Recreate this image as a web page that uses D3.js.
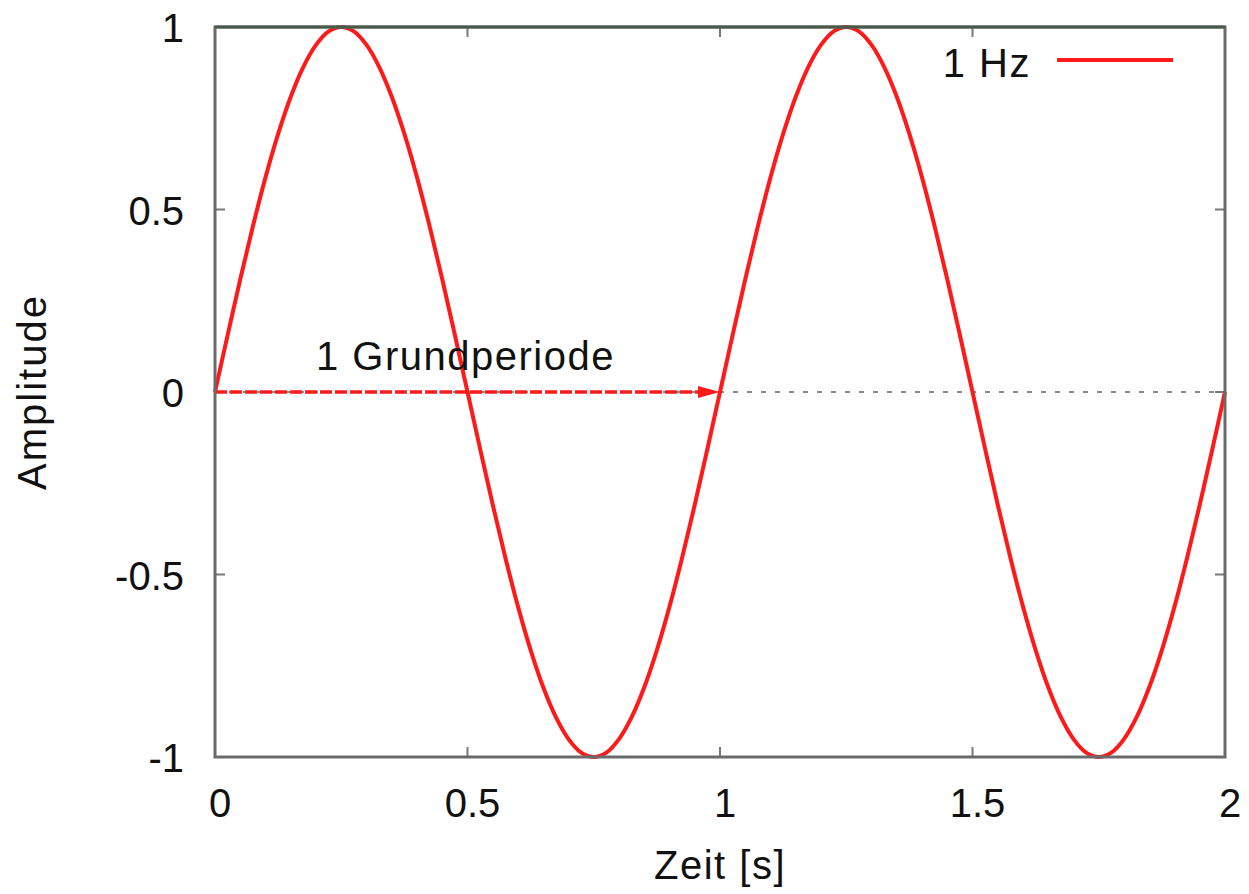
<!DOCTYPE html>
<html><head><meta charset="utf-8">
<script src="https://cdn.jsdelivr.net/npm/d3@7"></script>
<style>body{margin:0;background:#fff}svg{display:block}text{font-family:"Liberation Sans",Arial,sans-serif;fill:#111}</style>
</head><body><svg id="c" width="1249" height="894"></svg>
<script>
// Data: time (s) and amplitude
const times = [0,0.025,0.05,0.075,0.1,0.125,0.15,0.175,0.2,0.225,0.25,0.275,0.3,0.325,0.35,0.375,0.4,0.425,0.45,0.475,0.5,0.525,0.55,0.575,0.6,0.625,0.65,0.675,0.7,0.725,0.75,0.775,0.8,0.825,0.85,0.875,0.9,0.925,0.95,0.975,1,1.025,1.05,1.075,1.1,1.125,1.15,1.175,1.2,1.225,1.25,1.275,1.3,1.325,1.35,1.375,1.4,1.425,1.45,1.475,1.5,1.525,1.55,1.575,1.6,1.625,1.65,1.675,1.7,1.725,1.75,1.775,1.8,1.825,1.85,1.875,1.9,1.925,1.95,1.975,2];
const amplitude = [0,0.156,0.309,0.454,0.588,0.707,0.809,0.891,0.951,0.988,1,0.988,0.951,0.891,0.809,0.707,0.588,0.454,0.309,0.156,0,-0.156,-0.309,-0.454,-0.588,-0.707,-0.809,-0.891,-0.951,-0.988,-1,-0.988,-0.951,-0.891,-0.809,-0.707,-0.588,-0.454,-0.309,-0.156,0,0.156,0.309,0.454,0.588,0.707,0.809,0.891,0.951,0.988,1,0.988,0.951,0.891,0.809,0.707,0.588,0.454,0.309,0.156,0,-0.156,-0.309,-0.454,-0.588,-0.707,-0.809,-0.891,-0.951,-0.988,-1,-0.988,-0.951,-0.891,-0.809,-0.707,-0.588,-0.454,-0.309,-0.156,0];
const xTicks = [0,0.5,1,1.5,2];
const yTicks = [-1,-0.5,0,0.5,1];
const seriesName = "1 Hz";
const arrowFrom = 0, arrowTo = 1, arrowLabel = "1 Grundperiode";

const svg = d3.select("#c");
const L=215,R=1225,T=27,B=757;
const x = d3.scaleLinear().domain([0,2]).range([L,R]);
const y = d3.scaleLinear().domain([-1,1]).range([B,T]);
const red = "#ff1a1a";

// zero axis dotted
svg.append("line").attr("x1",L).attr("x2",R).attr("y1",y(0)).attr("y2",y(0))
  .attr("stroke","#888").attr("stroke-width",2).attr("stroke-dasharray","5,9");

// ticks inward (all four sides)
const tk=10;
const g=svg.append("g").attr("stroke","#777").attr("stroke-width",2);
xTicks.forEach(v=>{
  g.append("line").attr("x1",x(v)).attr("x2",x(v)).attr("y1",B).attr("y2",B-tk);
  g.append("line").attr("x1",x(v)).attr("x2",x(v)).attr("y1",T).attr("y2",T+tk);
});
yTicks.forEach(v=>{
  g.append("line").attr("x1",L).attr("x2",L+tk).attr("y1",y(v)).attr("y2",y(v));
  g.append("line").attr("x1",R).attr("x2",R-tk).attr("y1",y(v)).attr("y2",y(v));
});

// arrow
svg.append("line").attr("x1",x(arrowFrom)).attr("x2",x(arrowTo)-10).attr("y1",y(0)).attr("y2",y(0))
  .attr("stroke",red).attr("stroke-width",3.5).attr("stroke-dasharray","12,3");
svg.append("path").attr("d",`M${x(arrowTo)-22},${y(0)-6}L${x(arrowTo)},${y(0)}L${x(arrowTo)-22},${y(0)+6}Z`)
  .attr("fill",red);

// sine curve
const data = times.map((t,i)=>({t,a:amplitude[i]}));
svg.append("path").datum(data)
  .attr("d",d3.line().x(d=>x(d.t)).y(d=>y(d.a)).curve(d3.curveCatmullRom.alpha(0.5)))
  .attr("fill","none").attr("stroke",red).attr("stroke-width",4);

// frame
svg.append("rect").attr("x",L).attr("y",T).attr("width",R-L).attr("height",B-T)
  .attr("fill","none").attr("stroke","#6a6a6a").attr("stroke-width",3);
svg.append("line").attr("x1",L).attr("x2",R).attr("y1",T).attr("y2",T).attr("stroke","#4a5a4a").attr("stroke-width",3);

// tick labels
const fs=40, ls="1.5px";
xTicks.forEach(v=>svg.append("text").attr("x",x(v)+5).attr("y",817).attr("text-anchor","middle")
  .attr("font-size",fs).text(String(v)));
yTicks.forEach(v=>svg.append("text").attr("x",184).attr("y",y(v)+15).attr("text-anchor","end")
  .attr("font-size",fs).text(String(v)));

// axis titles
svg.append("text").attr("x",720).attr("y",879).attr("text-anchor","middle").attr("font-size",fs)
  .attr("letter-spacing",ls).text("Zeit [s]");
svg.append("text").attr("transform",`translate(46,${y(0)}) rotate(-90)`).attr("text-anchor","middle")
  .attr("font-size",fs).attr("letter-spacing","2px").text("Amplitude");

// annotation
svg.append("text").attr("x",316).attr("y",370).attr("font-size",fs).attr("letter-spacing",ls).text(arrowLabel);

// legend
svg.append("text").attr("x",1031).attr("y",77).attr("text-anchor","end").attr("font-size",fs)
  .attr("letter-spacing",ls).text(seriesName);
svg.append("line").attr("x1",1057).attr("x2",1173).attr("y1",60).attr("y2",60)
  .attr("stroke",red).attr("stroke-width",4);
</script></body></html>
